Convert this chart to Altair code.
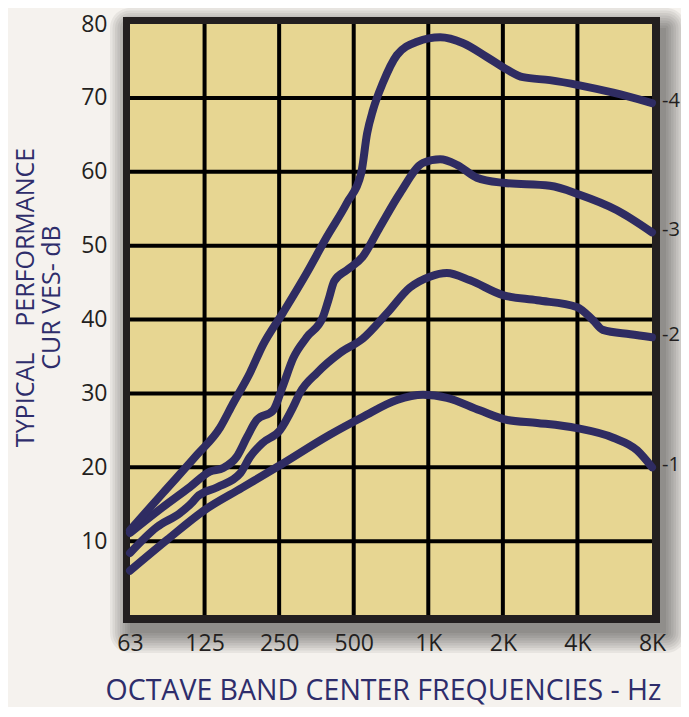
import json
import altair as alt
import pandas as pd

# ---------------- data ----------------
freq_labels = ["63", "125", "250", "500", "1K", "2K", "4K", "8K"]
octave_pos = [0, 1, 2, 3, 4, 5, 6, 7]
db_ticks = [10, 20, 30, 40, 50, 60, 70, 80]
grid_x = [1, 2, 3, 4, 5, 6]
grid_y = [10, 20, 30, 40, 50, 60, 70]

curve_names = ["-1", "-2", "-3", "-4"]

c1_x = [0, 0.5, 1.0, 1.5, 2.0, 2.68, 3.12, 3.58, 3.93, 4.25, 4.69, 5.06, 5.46, 5.99, 6.48, 6.8, 7.0]
c1_y = [6.0, 10.2, 14.2, 17.2, 20.2, 24.4, 26.8, 29.1, 29.8, 29.4, 27.7, 26.4, 26.0, 25.3, 24.0, 22.3, 20.0]

c2_x = [0, 0.36, 0.67, 0.83, 0.9, 1.17, 1.48, 1.61, 1.78, 2.01, 2.19, 2.28, 2.51, 2.82, 3.12, 3.45,
        3.75, 4.02, 4.25, 4.56, 5.0, 5.46, 5.99, 6.21, 6.34, 6.71, 7.0]
c2_y = [8.4, 11.9, 13.8, 15.2, 16.0, 17.3, 19.2, 21.4, 23.3, 25.0, 28.2, 30.1, 32.8, 35.5, 37.4, 40.9,
        44.3, 45.8, 46.3, 45.3, 43.3, 42.6, 41.7, 39.9, 38.6, 38.0, 37.6]

c3_x = [0, 0.44, 0.8, 1.07, 1.25, 1.43, 1.57, 1.7, 1.92, 2.05, 2.19, 2.37, 2.59, 2.66, 2.74, 2.91,
        3.12, 3.35, 3.62, 3.93, 4.16, 4.39, 4.65, 5.0, 5.63, 6.03, 6.53, 7.0]
c3_y = [11.1, 14.6, 17.3, 19.4, 19.9, 21.4, 24.1, 26.4, 27.7, 31.0, 34.8, 37.6, 40.4, 42.6, 45.2, 46.7,
        48.5, 52.5, 57.1, 61.2, 61.7, 60.9, 59.2, 58.5, 58.1, 56.9, 54.8, 51.8]

c4_x = [0, 0.44, 0.9, 1.21, 1.38, 1.61, 1.78, 2.05, 2.37, 2.64, 2.91, 3.1, 3.18, 3.26, 3.39, 3.58,
        3.85, 4.16, 4.47, 4.79, 5.06, 5.27, 5.63, 6.03, 6.48, 7.0]
c4_y = [11.5, 16.5, 21.7, 25.4, 28.6, 32.8, 36.5, 40.9, 46.3, 51.2, 55.8, 59.8, 65.2, 68.4, 72.0, 75.8,
        77.6, 78.2, 77.4, 75.5, 73.8, 72.8, 72.4, 71.7, 70.7, 69.3]

y_title = ["TYPICAL\u00a0\u00a0\u00a0\u00a0PERFORMANCE", "CUR VES- dB"]
x_title = "OCTAVE BAND CENTER FREQUENCIES - Hz"

# ---------------- tables ----------------
rows = []
for name, xs, ys in zip(curve_names, [c1_x, c2_x, c3_x, c4_x], [c1_y, c2_y, c3_y, c4_y]):
    for i, (a, b) in enumerate(zip(xs, ys)):
        rows.append({"curve": name, "oct": a, "db": b, "i": i})
lines_df = pd.DataFrame(rows)

end_df = pd.DataFrame({
    "curve": curve_names,
    "oct": [xs[-1] for xs in [c1_x, c2_x, c3_x, c4_x]],
    "db": [ys[-1] for ys in [c1_y, c2_y, c3_y, c4_y]],
})
gx_df = pd.DataFrame({"oct": grid_x})
gy_df = pd.DataFrame({"db": grid_y})
one = pd.DataFrame({"a": [0]})

# ---------------- styling ----------------
W, H = 522, 591
FONT = "Open Sans"
NAVY = "#2f2c62"
TITLE_NAVY = "#2e2d6b"
TAN = "#e7d692"
BG = "#f5f2ee"
INK = "#231f20"
FR = 7

xscale = alt.Scale(domain=[0, 7], nice=False, zero=False)
yscale = alt.Scale(domain=[0, 80], nice=False, zero=True)

label_expr = json.dumps(freq_labels) + "[datum.value]"

xaxis = alt.Axis(
    values=octave_pos, labelExpr=label_expr, grid=False, domain=False, ticks=False, tickSize=0,
    labelFont=FONT, labelFontSize=23, labelColor=INK, labelPadding=17, labelBaseline="top",
    labelFlush=False, zindex=2,
    title=x_title, titleFont=FONT, titleFontSize=28.5,
    titleFontWeight="normal", titleColor=TITLE_NAVY, titleX=253, titleY=84,
    titleBaseline="alphabetic", titleAlign="center",
)
yaxis = alt.Axis(
    values=db_ticks, grid=False, domain=False, ticks=False, tickSize=0,
    labelFont=FONT, labelFontSize=23, labelColor=INK, labelPadding=23,
    labelBaseline="middle", zindex=2,
    title=y_title, titleFont=FONT, titleFontSize=25,
    titleFontWeight="normal", titleColor=TITLE_NAVY, titleAngle=270, titleX=-117, titleY=273,
    titleBaseline="top", titleAlign="center", titleLineHeight=26,
)
X = alt.X("oct:Q", scale=xscale, axis=xaxis)
Y = alt.Y("db:Q", scale=yscale, axis=yaxis)

# soft drop shadow
shadow_layers = []
ox, oy = 7, 11
for k in range(9):
    e = 2.5 * k
    shadow_layers.append(
        alt.Chart(one).mark_rect(color="#000000", opacity=0.055, cornerRadius=e).encode(
            x=alt.value(-FR + ox - e), x2=alt.value(W + FR + ox + e),
            y=alt.value(-FR + oy - e), y2=alt.value(H + FR + oy + e),
        )
    )

frame = alt.Chart(one).mark_rect(color=INK).encode(
    x=alt.value(-FR), x2=alt.value(W + FR + 1), y=alt.value(-FR), y2=alt.value(H + FR + 1)
)
panel = alt.Chart(one).mark_rect(color=TAN).encode(
    x=alt.value(0), x2=alt.value(W), y=alt.value(0), y2=alt.value(H)
)

grid_v = alt.Chart(gx_df).mark_rule(color="#000000", strokeWidth=4).encode(
    x=X, y=alt.value(0), y2=alt.value(H)
)
grid_h = alt.Chart(gy_df).mark_rule(color="#000000", strokeWidth=4).encode(
    y=Y, x=alt.value(0), x2=alt.value(W)
)

curves = alt.Chart(lines_df).mark_line(
    color=NAVY, strokeWidth=8, interpolate="monotone", strokeCap="round", strokeJoin="round"
).encode(
    x=X, y=Y, detail="curve:N", order="i:Q",
)

end_labels = alt.Chart(end_df).mark_text(
    align="left", baseline="middle", dx=10, dy=-2, font=FONT, fontSize=20, color=INK
).encode(
    x=X, y=Y, text="curve:N",
)

chart = alt.layer(
    *shadow_layers, frame, panel, grid_v, grid_h, curves, end_labels
).properties(
    width=W, height=H,
    autosize=alt.AutoSizeParams(type="none"),
    padding={"left": 122, "top": 16, "right": 29, "bottom": 92},
    background=BG,
).configure_view(strokeWidth=0)

chart.save("out.html", embed_options={"renderer": "svg", "actions": False})
